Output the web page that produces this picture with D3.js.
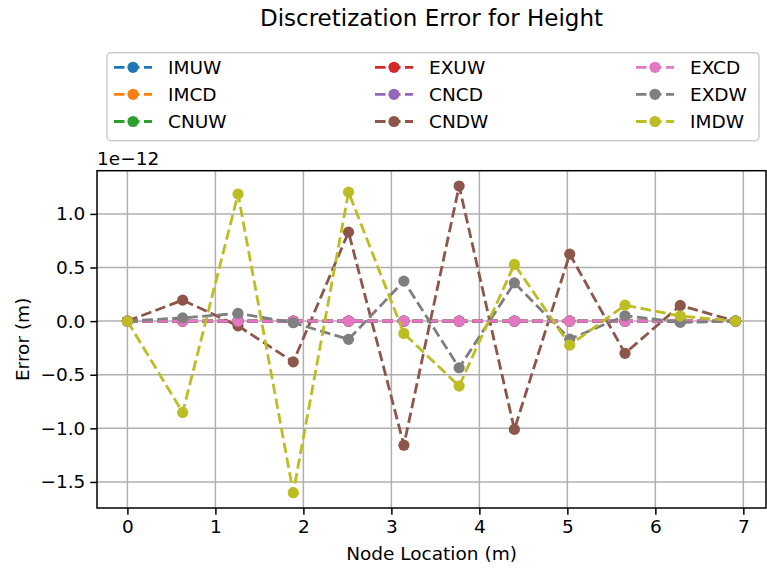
<!DOCTYPE html>
<html><head><meta charset="utf-8">
<script src="https://cdn.jsdelivr.net/npm/d3@7"></script>
<style>body{margin:0;background:#fff} svg{display:block} text{font-family:"DejaVu Sans",sans-serif;fill:#000}</style>
</head><body><svg id="c" width="767" height="569"></svg>
<script>
// ---- data (errors in units of 1e-12 m) ----
const nodeLocation = [0, 0.628, 1.257, 1.885, 2.513, 3.142, 3.770, 4.398, 5.027, 5.655, 6.283, 6.912];
const seriesNames = ["IMUW", "IMCD", "CNUW", "EXUW", "CNCD", "CNDW", "EXCD", "EXDW", "IMDW"];
const IMUW = [0, 0, 0, 0, 0, 0, 0, 0, 0, 0, 0, 0];
const IMCD = [0, 0, 0, 0, 0, 0, 0, 0, 0, 0, 0, 0];
const CNUW = [0, 0, 0, 0, 0, 0, 0, 0, 0, 0, 0, 0];
const EXUW = [0, 0, 0, 0, 0, 0, 0, 0, 0, 0, 0, 0];
const CNCD = [0, 0, 0, 0, 0, 0, 0, 0, 0, 0, 0, 0];
const CNDW = [0, 0.196, -0.044, -0.38, 0.83, -1.157, 1.26, -1.01, 0.625, -0.30, 0.146, 0];
const EXCD = [0, 0, 0, 0, 0, 0, 0, 0, 0, 0, 0, 0];
const EXDW = [0, 0.03, 0.072, -0.015, -0.17, 0.373, -0.435, 0.357, -0.168, 0.05, -0.012, 0];
const IMDW = [0, -0.852, 1.185, -1.60, 1.203, -0.115, -0.606, 0.529, -0.224, 0.149, 0.047, 0];
const seriesValues = [IMUW, IMCD, CNUW, EXUW, CNCD, CNDW, EXCD, EXDW, IMDW];
const seriesColors = ["#1f77b4", "#ff7f0e", "#2ca02c", "#d62728", "#9467bd", "#8c564b", "#e377c2", "#7f7f7f", "#bcbd22"];
const xTicks = [0, 1, 2, 3, 4, 5, 6, 7];
const yTicks = [-1.5, -1.0, -0.5, 0.0, 0.5, 1.0];
const offsetLabel = "1e\u221212";
const titleText = "Discretization Error for Height";
const xLabel = "Node Location (m)";
const yLabel = "Error (m)";

// ---- layout ----
const L = 97, R = 766, T = 170.7, B = 508;
const svg = d3.select("#c");
const FS = 18.5;

const xExt = d3.extent(nodeLocation);
const xPad = (xExt[1] - xExt[0]) * 0.05;
const allY = seriesValues.flat();
const yExt = d3.extent(allY);
const yPad = (yExt[1] - yExt[0]) * 0.05;
const x = d3.scaleLinear().domain([xExt[0] - xPad, xExt[1] + xPad]).range([L, R]);
const y = d3.scaleLinear().domain([yExt[0] - yPad, yExt[1] + yPad]).range([B, T]);

// grid
const grid = svg.append("g").attr("stroke", "#b0b0b0").attr("stroke-width", 1.5);
grid.selectAll("line.gx").data(xTicks).join("line")
  .attr("x1", d => x(d)).attr("x2", d => x(d)).attr("y1", T).attr("y2", B);
grid.selectAll("line.gy").data(yTicks).join("line")
  .attr("x1", L).attr("x2", R).attr("y1", d => y(d)).attr("y2", d => y(d));

// series
const line = d3.line().x((d, i) => x(nodeLocation[i])).y(d => y(d));
const plot = svg.append("g");
seriesValues.forEach((vals, k) => {
  const g = plot.append("g");
  g.append("path").attr("d", line(vals)).attr("fill", "none")
    .attr("stroke", seriesColors[k]).attr("stroke-width", 2.8)
    .attr("stroke-dasharray", "10.5,4.5");
  g.selectAll("circle").data(vals).join("circle")
    .attr("cx", (d, i) => x(nodeLocation[i])).attr("cy", d => y(d))
    .attr("r", 5.6).attr("fill", seriesColors[k]);
});

// axes
const xAxis = d3.axisBottom(x).tickValues(xTicks).tickFormat(d3.format("d")).tickSize(6.7).tickPadding(5);
const yAxis = d3.axisLeft(y).tickValues(yTicks).tickFormat(d3.format(".1f")).tickSize(6.7).tickPadding(5);
const gx = svg.append("g").attr("transform", `translate(0,${B})`).call(xAxis);
const gy = svg.append("g").attr("transform", `translate(${L},0)`).call(yAxis);
[gx, gy].forEach(g => {
  g.select(".domain").remove();
  g.selectAll(".tick line").attr("stroke", "#000").attr("stroke-width", 1.5);
  g.selectAll(".tick text").attr("font-size", FS).attr("font-family", "DejaVu Sans").attr("fill", "#000");
});

// spines
svg.append("rect").attr("x", L).attr("y", T).attr("width", R - L).attr("height", B - T)
  .attr("fill", "none").attr("stroke", "#000").attr("stroke-width", 1.5);

// texts
svg.append("text").attr("x", L).attr("y", 165).attr("font-size", FS).text(offsetLabel);
svg.append("text").attr("x", (L + R) / 2).attr("y", 26).attr("text-anchor", "middle").attr("font-size", 23).text(titleText);
svg.append("text").attr("x", (L + R) / 2).attr("y", 560).attr("text-anchor", "middle").attr("font-size", FS).text(xLabel);
svg.append("text").attr("transform", `translate(29,${(T + B) / 2}) rotate(-90)`).attr("text-anchor", "middle").attr("font-size", FS).text(yLabel);

// legend
const lg = svg.append("g");
lg.append("rect").attr("x", 107).attr("y", 52.7).attr("width", 652).attr("height", 88)
  .attr("rx", 4).attr("fill", "#fff").attr("fill-opacity", 0.8)
  .attr("stroke", "#cccccc").attr("stroke-width", 1.5);
const colX = [114, 375, 636];
const rowY = [67.3, 94.3, 121.5];
seriesNames.forEach((name, k) => {
  const cx = colX[Math.floor(k / 3)], cy = rowY[k % 3];
  const item = lg.append("g").attr("transform", `translate(${cx},${cy})`);
  item.append("line").attr("x1", 0).attr("x2", 38).attr("y1", 0).attr("y2", 0)
    .attr("stroke", seriesColors[k]).attr("stroke-width", 2.8).attr("stroke-dasharray", "10.5,4.5");
  item.append("circle").attr("cx", 19).attr("cy", 0).attr("r", 5.6).attr("fill", seriesColors[k]);
  item.append("text").attr("x", 54).attr("y", 0).attr("dy", "0.36em").attr("font-size", FS).text(name);
});
</script></body></html>
